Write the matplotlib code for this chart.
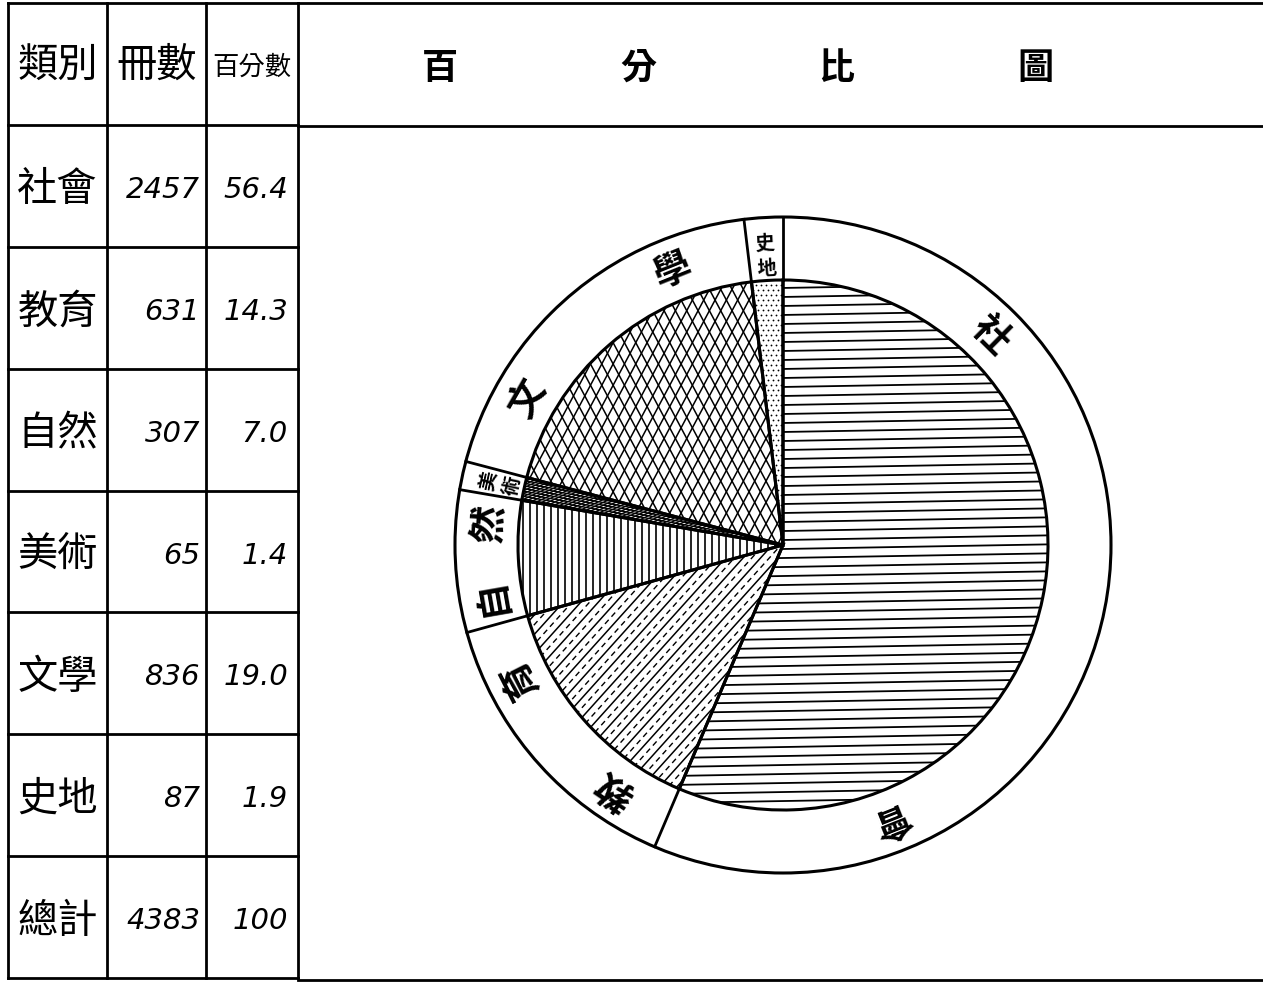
import numpy as np
import matplotlib
matplotlib.use('Agg')
import matplotlib.pyplot as plt
from matplotlib.collections import LineCollection
from matplotlib.patches import Circle

plt.rcParams['font.family'] = ['Noto Sans CJK TC', 'DejaVu Sans']

# data
categories = ['社會', '教育', '自然', '美術', '文學', '史地']
counts = [2457, 631, 307, 65, 836, 87]
percents = [56.4, 14.3, 7.0, 1.4, 19.0, 1.9]
total_label = '總計'
total_count = 4383
total_pct = '100'
headers = ['類別', '冊數', '百分數']
title_chars = ['百', '分', '比', '圖']

W, H = 1263, 984


def Y(y):
    # image row -> axes y
    return H - y


fig = plt.figure(figsize=(W / 100, H / 100), dpi=100)
ax = fig.add_axes([0, 0, 1, 1])

# ---- pie ----
cx, cy = 783, Y(545)
R_in, R_out = 265, 328
wedges, _ = ax.pie(percents, startangle=90, counterclock=False,
                   center=(cx, cy), radius=R_in,
                   wedgeprops=dict(fill=False, edgecolor='black', linewidth=2.2))
ax.set_xlim(0, W)
ax.set_ylim(0, H)
ax.set_aspect('auto')
ax.axis('off')


def hatch_lines(patch, angle, spacing, lw=1.2, ls='solid', offset=0.0):
    a = np.deg2rad(angle)
    d = np.array([np.cos(a), np.sin(a)])
    n = np.array([-np.sin(a), np.cos(a)])
    segs = []
    for off in np.arange(-R_in - spacing + offset, R_in + spacing, spacing):
        p = np.array([cx, cy]) + n * off
        segs.append([p - d * (R_in + 10), p + d * (R_in + 10)])
    lc = LineCollection(segs, colors='black', linewidths=lw, linestyles=ls)
    ax.add_collection(lc)
    lc.set_clip_path(patch)


def hatch_dots(patch, spacing):
    xs, ys = [], []
    for j, yy in enumerate(np.arange(cy - R_in, cy + R_in, spacing)):
        for xx in np.arange(cx - R_in + (j % 2) * spacing / 2, cx + R_in, spacing):
            xs.append(xx)
            ys.append(yy)
    pts, = ax.plot(xs, ys, 'o', color='black', markersize=1.3, markeredgewidth=0)
    pts.set_clip_path(patch)


w_soc, w_edu, w_nat, w_art, w_lit, w_his = wedges
hatch_lines(w_soc, 1, 9, lw=1.3)
hatch_lines(w_edu, 48, 13, lw=1.1)
hatch_lines(w_edu, 48, 13, lw=1.0, ls=(0, (4, 3)), offset=6.5)
hatch_lines(w_nat, 90, 7, lw=1.2)
hatch_lines(w_art, 25, 2.6, lw=1.0)
hatch_lines(w_art, -10, 2.6, lw=1.0)
hatch_lines(w_lit, 62, 10, lw=1.1)
hatch_lines(w_lit, 118, 10, lw=1.1)
hatch_dots(w_his, 5)

ax.add_patch(Circle((cx, cy), R_out, fill=False, edgecolor='black', linewidth=2.2))

# ring dividers and labels
cum = np.concatenate([[0], np.cumsum(percents)]) / np.sum(percents)
for f in cum[:-1]:
    th = np.deg2rad(90 - 360 * f)
    ax.plot([cx + R_in * np.cos(th), cx + R_out * np.cos(th)],
            [cy + R_in * np.sin(th), cy + R_out * np.sin(th)],
            color='black', linewidth=2)

for i, name in enumerate(categories):
    a0 = 90 - 360 * cum[i]
    a1 = 90 - 360 * cum[i + 1]
    span = a0 - a1
    if span > 10:
        places = [(a0 - span * 0.22, 296), (a0 - span * 0.78, 296)]
        size = 27
    else:
        mid = (a0 + a1) / 2
        places = [(mid, 301), (mid, 277)]
        size = 14
    for ch, (ang, r) in zip(name, places):
        t = np.deg2rad(ang)
        ax.text(cx + r * np.cos(t), cy + r * np.sin(t), ch, fontsize=size,
                fontweight='bold', rotation=ang - 90, rotation_mode='anchor',
                ha='center', va='center')

# ---- table ----
col_x = [8, 107, 206, 298]
row_y = [3, 125] + list(np.linspace(125, 978, 8)[1:])
lw = 2.0
for x in col_x:
    ax.plot([x, x], [Y(3), Y(978)], color='black', linewidth=lw)
for y in row_y:
    ax.plot([8, 298], [Y(y), Y(y)], color='black', linewidth=lw)

# right panel frame
ax.plot([298, W], [Y(3), Y(3)], color='black', linewidth=lw)
ax.plot([298, W], [Y(126), Y(126)], color='black', linewidth=lw)
ax.plot([298, W], [Y(980), Y(980)], color='black', linewidth=lw)

hx = [(col_x[k] + col_x[k + 1]) / 2 for k in range(3)]
ax.text(hx[0], Y(65), headers[0], fontsize=29, fontweight='medium', ha='center', va='center')
ax.text(hx[1], Y(65), headers[1], fontsize=29, fontweight='medium', ha='center', va='center')
ax.text(hx[2], Y(67), headers[2], fontsize=19, fontweight='medium', ha='center', va='center')

rows = list(zip(categories, counts, [f'{p:.1f}' for p in percents]))
rows.append((total_label, total_count, total_pct))
num_font = dict(family='DejaVu Sans', style='italic', fontsize=21)
for k, (name, cnt, pct) in enumerate(rows):
    yc = Y((row_y[k + 1] + row_y[k + 2]) / 2 + 4)
    ax.text(hx[0], yc, name, fontsize=29, fontweight='medium', ha='center', va='center')
    ax.text(200, yc, str(cnt), ha='right', va='center', **num_font)
    ax.text(288, yc, pct, ha='right', va='center', **num_font)

# title
for ch, x in zip(title_chars, np.linspace(440, 1035, 4)):
    ax.text(x, Y(68), ch, fontsize=26, fontweight='bold', ha='center', va='center')

fig.savefig('out.png', dpi=100, facecolor='white')
